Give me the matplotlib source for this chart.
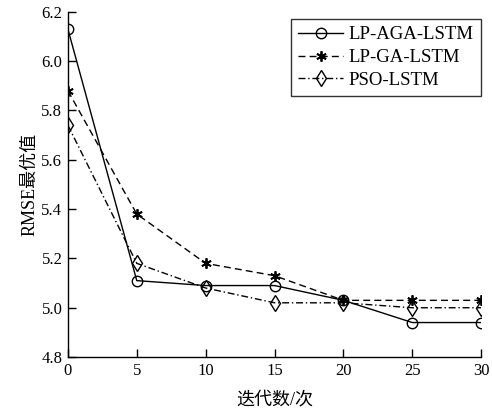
import numpy as np
import matplotlib
matplotlib.use("Agg")
import matplotlib.pyplot as plt

plt.rcParams['font.family'] = ['Liberation Serif', 'Noto Sans CJK SC']

iters = [0, 5, 10, 15, 20, 25, 30]
aga = [6.13, 5.11, 5.09, 5.09, 5.03, 4.94, 4.94]
ga = [5.88, 5.38, 5.18, 5.13, 5.03, 5.03, 5.03]
pso = [5.74, 5.18, 5.08, 5.02, 5.02, 5.00, 5.00]

fig = plt.figure(figsize=(4.92, 4.09), dpi=100)
ax = fig.add_axes([0.138, 0.127, 0.840, 0.844])

ax.plot(iters, aga, '-', color='black', lw=1.0, marker='o', ms=7.5,
        mfc='none', mec='black', mew=1.0, label='LP-AGA-LSTM')
ax.plot(iters, ga, color='black', lw=1.0, ls=(0, (5, 3)), marker=(6, 2, 0), ms=7.5,
        mec='black', mew=1.3, label='LP-GA-LSTM')
ax.plot(iters, pso, color='black', lw=1.0, ls=(0, (5, 2, 1, 2)), marker='d', ms=8,
        mfc='none', mec='black', mew=1.0, label='PSO-LSTM')

ax.set_xlim(0, 30)
ax.set_ylim(4.8, 6.2)
ax.set_xticks([0, 5, 10, 15, 20, 25, 30])
ax.set_yticks(np.arange(4.8, 6.21, 0.2))
ax.set_yticklabels(['4.8', '5.0', '5.2', '5.4', '5.6', '5.8', '6.0', '6.2'])
ax.tick_params(direction='in', length=6, width=1, labelsize=12, pad=4)
ax.spines['top'].set_visible(False)
ax.spines['right'].set_visible(False)
for s in ['left', 'bottom']:
    ax.spines[s].set_linewidth(1.0)

ax.set_xlabel('迭代数/次', fontsize=13, labelpad=9)
ax.set_ylabel('RMSE最优值', fontsize=13, labelpad=2)

leg = ax.legend(loc='upper right', bbox_to_anchor=(1.0, 0.98), fontsize=13.5,
                frameon=True, fancybox=False, edgecolor='black',
                handlelength=2.4, handletextpad=0.3, borderpad=0.4,
                labelspacing=0.3, borderaxespad=0)
leg.get_frame().set_linewidth(1.0)

fig.savefig('out.png', dpi=100)
